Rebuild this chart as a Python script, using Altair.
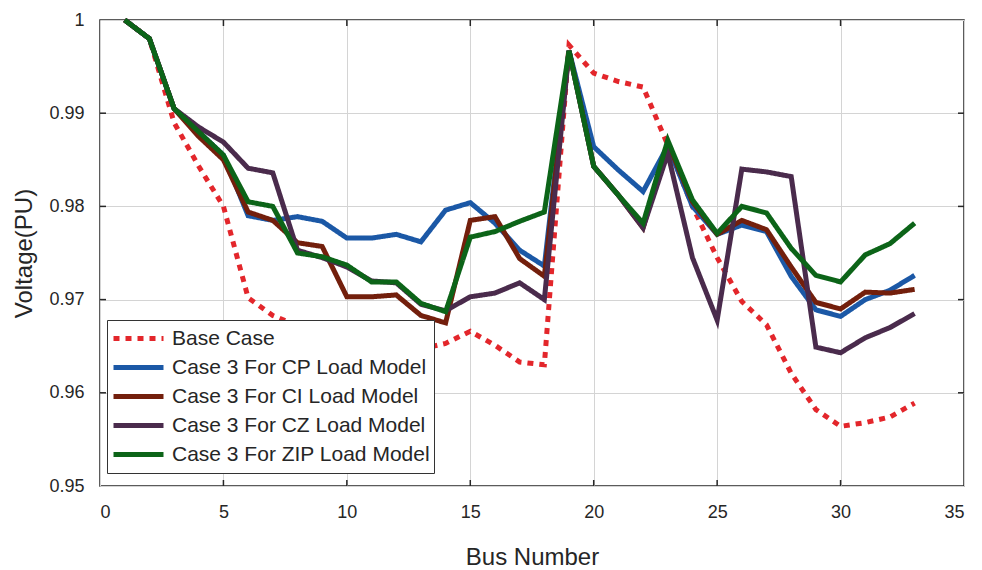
import altair as alt
import pandas as pd

bus = list(range(1, 34))

base_case = [1.0, 0.998, 0.989, 0.9843, 0.980, 0.9702, 0.9683, 0.9672, 0.9665, 0.966,
             0.9655, 0.965, 0.9647, 0.9653, 0.9666, 0.9651, 0.9633, 0.963, 0.9973, 0.9943,
             0.9934, 0.9928, 0.9866, 0.980, 0.9745, 0.9698, 0.9673, 0.9621, 0.9582, 0.9564,
             0.9568, 0.9574, 0.9589]
cp_model = [1.0, 0.998, 0.9905, 0.988, 0.9855, 0.979, 0.9785, 0.9789, 0.9784, 0.9766,
            0.9766, 0.977, 0.9762, 0.9796, 0.9804, 0.9782, 0.9753, 0.9736, 0.9967, 0.9864,
            0.9839, 0.9816, 0.9865, 0.980, 0.977, 0.978, 0.9773, 0.9725, 0.9689, 0.9682,
            0.970, 0.971, 0.9726]
ci_model = [1.0, 0.998, 0.9905, 0.9875, 0.985, 0.9794, 0.9785, 0.9761, 0.9757, 0.9703,
            0.9703, 0.9705, 0.9683, 0.9675, 0.9785, 0.9789, 0.9744, 0.9725, 0.9967, 0.9843,
            0.9812, 0.9777, 0.9868, 0.9805, 0.977, 0.9785, 0.9775, 0.9735, 0.9697, 0.969,
            0.9708, 0.9707, 0.9711]
cz_model = [1.0, 0.998, 0.9905, 0.9885, 0.9869, 0.9841, 0.9836, 0.9753, 0.9745, 0.9735,
            0.972, 0.9718, 0.9695, 0.9688, 0.9703, 0.9707, 0.9718, 0.970, 0.9967, 0.9843,
            0.9812, 0.9777, 0.9857, 0.9745, 0.9678, 0.984, 0.9837, 0.9832, 0.9649, 0.9643,
            0.9659, 0.967, 0.9685]
zip_model = [1.0, 0.998, 0.9905, 0.988, 0.9855, 0.9805, 0.980, 0.975, 0.9746, 0.9737,
             0.9719, 0.9719, 0.9696, 0.9687, 0.9767, 0.9773, 0.9784, 0.9794, 0.9967, 0.9843,
             0.9812, 0.9782, 0.9871, 0.9807, 0.9771, 0.980, 0.9793, 0.9755, 0.9726, 0.9719,
             0.9748, 0.976, 0.9782]

series_names = ["Base Case", "Case 3 For CP Load Model", "Case 3 For CI Load Model",
                "Case 3 For CZ Load Model", "Case 3 For ZIP Load Model"]
series_values = [base_case, cp_model, ci_model, cz_model, zip_model]
series_colors = ["#e3262b", "#1b58a6", "#731f0c", "#4a2b4c", "#0c6418"]
series_dash = [[6, 6], [1, 0], [1, 0], [1, 0], [1, 0]]

x_ticks = [0, 5, 10, 15, 20, 25, 30, 35]
y_ticks = [0.95, 0.96, 0.97, 0.98, 0.99, 1.0]

rows = []
for order, (name, vals) in enumerate(zip(series_names, series_values)):
    for b, v in zip(bus, vals):
        rows.append({"bus": b, "v": v, "series": name, "order": order})
df = pd.DataFrame(rows)

W, H = 864, 466
FONT = "Liberation Sans"

xscale = alt.Scale(domain=[0, 35], nice=False, zero=False)
yscale = alt.Scale(domain=[0.95, 1.0], nice=False, zero=False)

legend_kw = dict(
    title=None, orient="none", legendX=7, legendY=300,
    fillColor="white", strokeColor="#333333", padding=4,
    labelFontSize=21, labelFont=FONT, labelColor="#262626",
    symbolType="stroke", symbolSize=2500, symbolStrokeWidth=5,
    labelOffset=6, rowPadding=0, clipHeight=29, labelLimit=400,
)

lines = alt.Chart(df).mark_line(strokeWidth=5, strokeCap="butt", strokeJoin="miter").encode(
    x=alt.X("bus:Q", scale=xscale,
            axis=alt.Axis(values=x_ticks, title="Bus Number", grid=True, domain=False,
                          tickSize=0, labelPadding=17, titlePadding=24, format="d")),
    y=alt.Y("v:Q", scale=yscale,
            axis=alt.Axis(values=y_ticks, title="Voltage(PU)", grid=True, domain=False,
                          tickSize=0, labelPadding=16, titlePadding=12,
                          labelExpr="datum.value >= 0.9999 ? '1' : format(datum.value, '.2f')")),
    color=alt.Color("series:N", scale=alt.Scale(domain=series_names, range=series_colors),
                    legend=alt.Legend(**legend_kw)),
    strokeDash=alt.StrokeDash("series:N", scale=alt.Scale(domain=series_names, range=series_dash),
                              legend=alt.Legend(**legend_kw)),
    order=alt.Order("order:Q"),
)

xt = pd.DataFrame({"t": x_ticks[1:-1]})
yt = pd.DataFrame({"t": y_ticks[1:-1]})
tick_color = "#262626"
xb = alt.Chart(xt).mark_rule(color=tick_color, strokeWidth=1.5).encode(
    x=alt.X("t:Q", scale=xscale), y=alt.value(H), y2=alt.value(H - 6))
xtp = alt.Chart(xt).mark_rule(color=tick_color, strokeWidth=1.5).encode(
    x=alt.X("t:Q", scale=xscale), y=alt.value(0), y2=alt.value(6))
yl = alt.Chart(yt).mark_rule(color=tick_color, strokeWidth=1.5).encode(
    y=alt.Y("t:Q", scale=yscale), x=alt.value(0), x2=alt.value(6))
yr = alt.Chart(yt).mark_rule(color=tick_color, strokeWidth=1.5).encode(
    y=alt.Y("t:Q", scale=yscale), x=alt.value(W), x2=alt.value(W - 6))

chart = alt.layer(xb, xtp, yl, yr, lines).properties(
    width=W, height=H,
    autosize=alt.AutoSizeParams(type="none"),
    padding={"left": 100, "top": 20, "right": 18, "bottom": 84},
    background="white",
).configure_view(
    stroke="#262626", strokeWidth=1.5
).configure_axis(
    gridColor="#d4d4d4", gridWidth=1, gridOpacity=1,
    labelFont=FONT, labelFontSize=18, labelColor="#262626",
    titleFont=FONT, titleFontSize=24, titleColor="#262626", titleFontWeight="normal",
)

chart.save("out.html", embed_options={"renderer": "svg", "actions": False})
